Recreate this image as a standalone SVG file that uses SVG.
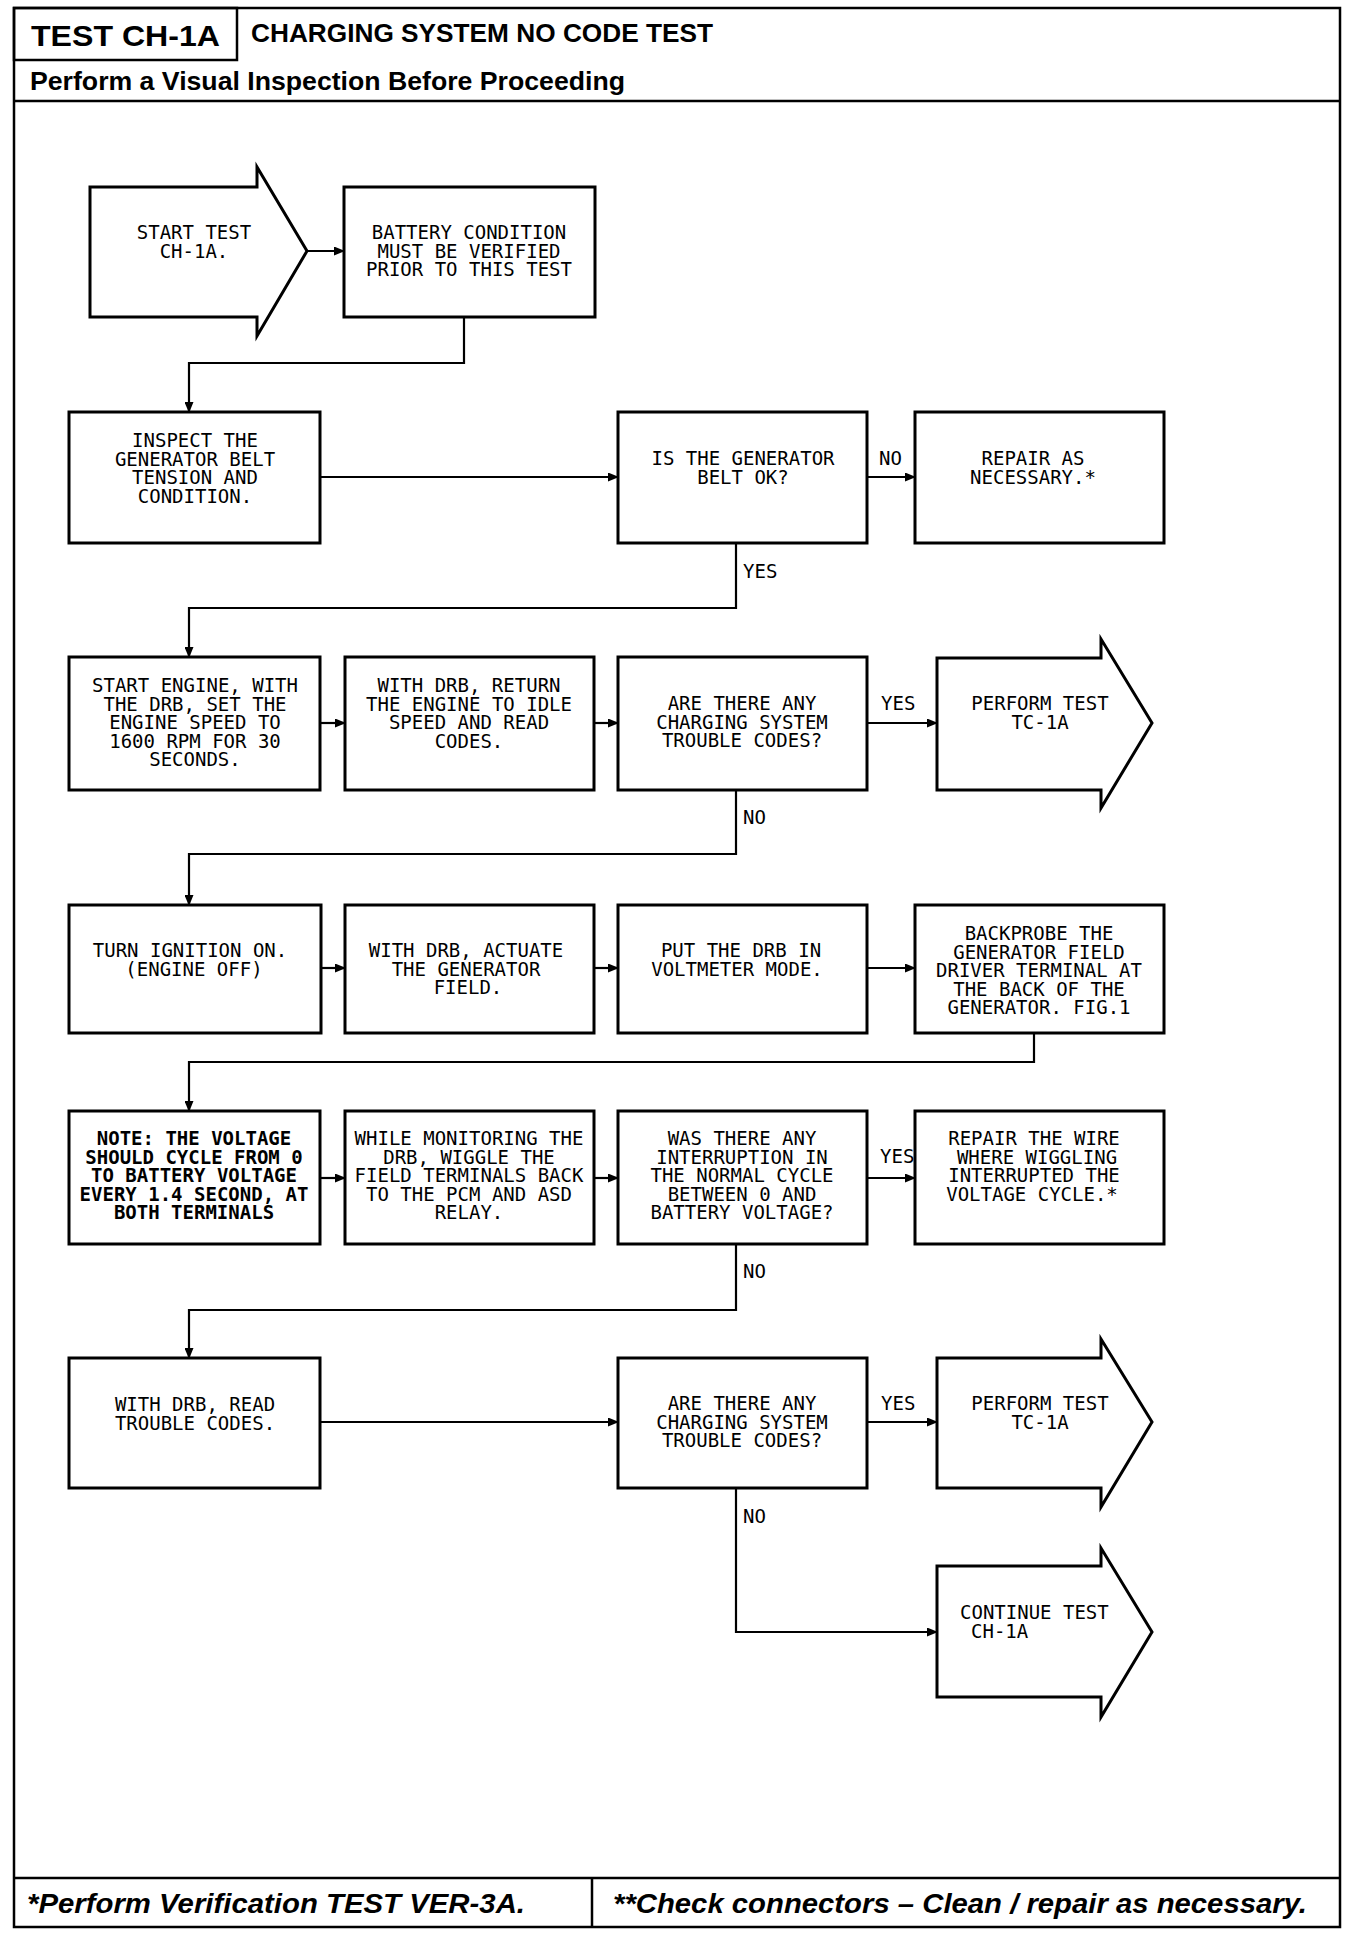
<svg xmlns="http://www.w3.org/2000/svg" width="1360" height="1938" viewBox="0 0 1360 1938">
<defs>
<style>
.frame{fill:none;stroke:#000;stroke-width:2.5}
.box{fill:#fff;stroke:#000;stroke-width:3}
.conn{fill:none;stroke:#000;stroke-width:2.2}
.t{font-family:"DejaVu Sans Mono","Liberation Mono",monospace;font-size:19px;fill:#000;text-anchor:middle}
.tb{font-weight:bold}
.lbl{font-family:"DejaVu Sans Mono","Liberation Mono",monospace;font-size:19px;fill:#000}
.hd{font-family:"Liberation Sans",Arial,sans-serif;font-weight:bold;fill:#000}
.ft{font-family:"Liberation Sans",Arial,sans-serif;font-weight:bold;font-style:italic;fill:#000}
</style>
<marker id="ah" markerUnits="userSpaceOnUse" markerWidth="11" markerHeight="9" refX="10" refY="4.5" orient="auto">
<path d="M0,0 L11,4.5 L0,9 z" fill="#000"/>
</marker>
</defs>
<rect width="1360" height="1938" fill="#fff"/>

<g id="frame">
<rect class="frame" x="14" y="8" width="1326" height="1919"/>
<rect class="frame" x="14" y="8" width="223" height="52"/>
<line class="frame" x1="14" y1="101" x2="1340" y2="101"/>
<line class="frame" x1="14" y1="1878" x2="1340" y2="1878"/>
<line class="frame" x1="592" y1="1878" x2="592" y2="1927"/>
<text class="hd" x="31" y="46" font-size="30" textLength="189" lengthAdjust="spacingAndGlyphs">TEST CH-1A</text>
<text class="hd" x="251" y="42" font-size="25" textLength="462" lengthAdjust="spacingAndGlyphs">CHARGING SYSTEM NO CODE TEST</text>
<text class="hd" x="30" y="90" font-size="25" textLength="595" lengthAdjust="spacingAndGlyphs">Perform a Visual Inspection Before Proceeding</text>
<text class="ft" x="27" y="1913" font-size="28" textLength="498" lengthAdjust="spacingAndGlyphs">*Perform Verification TEST VER-3A.</text>
<text class="ft" x="613" y="1913" font-size="28" textLength="694" lengthAdjust="spacingAndGlyphs">**Check connectors – Clean / repair as necessary.</text>
</g>

<g id="connectors">
<line class="conn" x1="307" y1="251" x2="344" y2="251" marker-end="url(#ah)"/>
<path class="conn" d="M464,317 V363 H189 V412" marker-end="url(#ah)"/>
<line class="conn" x1="320" y1="477" x2="618" y2="477" marker-end="url(#ah)"/>
<line class="conn" x1="867" y1="477" x2="915" y2="477" marker-end="url(#ah)"/>
<path class="conn" d="M736,543 V608 H189 V657" marker-end="url(#ah)"/>
<line class="conn" x1="320" y1="723" x2="345" y2="723" marker-end="url(#ah)"/>
<line class="conn" x1="594" y1="723" x2="618" y2="723" marker-end="url(#ah)"/>
<line class="conn" x1="867" y1="723" x2="937" y2="723" marker-end="url(#ah)"/>
<path class="conn" d="M736,790 V854 H189 V905" marker-end="url(#ah)"/>
<line class="conn" x1="320" y1="968" x2="345" y2="968" marker-end="url(#ah)"/>
<line class="conn" x1="594" y1="968" x2="618" y2="968" marker-end="url(#ah)"/>
<line class="conn" x1="867" y1="968" x2="915" y2="968" marker-end="url(#ah)"/>
<path class="conn" d="M1034,1033 V1062 H189 V1111" marker-end="url(#ah)"/>
<line class="conn" x1="320" y1="1178" x2="345" y2="1178" marker-end="url(#ah)"/>
<line class="conn" x1="594" y1="1178" x2="618" y2="1178" marker-end="url(#ah)"/>
<line class="conn" x1="867" y1="1178" x2="915" y2="1178" marker-end="url(#ah)"/>
<path class="conn" d="M736,1244 V1310 H189 V1358" marker-end="url(#ah)"/>
<line class="conn" x1="320" y1="1422" x2="618" y2="1422" marker-end="url(#ah)"/>
<line class="conn" x1="867" y1="1422" x2="937" y2="1422" marker-end="url(#ah)"/>
<path class="conn" d="M736,1488 V1632 H937" marker-end="url(#ah)"/>
<text class="lbl" x="879" y="465">NO</text>
<text class="lbl" x="743" y="578">YES</text>
<text class="lbl" x="881" y="710">YES</text>
<text class="lbl" x="743" y="824">NO</text>
<text class="lbl" x="880" y="1163">YES</text>
<text class="lbl" x="743" y="1278">NO</text>
<text class="lbl" x="881" y="1410">YES</text>
<text class="lbl" x="743" y="1523">NO</text>
</g>

<g id="start">
<polygon class="box" points="90,187 257,187 257,167 307,251 257,336 257,317 90,317"/>
<text class="t" x="194" y="239">START TEST<tspan x="194" dy="18.5">CH-1A.</tspan></text>
</g>
<g id="battery">
<rect class="box" x="344" y="187" width="251" height="130"/>
<text class="t" x="469" y="239">BATTERY CONDITION<tspan x="469" dy="18.5">MUST BE VERIFIED</tspan><tspan x="469" dy="18.5">PRIOR TO THIS TEST</tspan></text>
</g>
<g id="inspect">
<rect class="box" x="69" y="412" width="251" height="131"/>
<text class="t" x="195" y="447">INSPECT THE<tspan x="195" dy="18.5">GENERATOR BELT</tspan><tspan x="195" dy="18.5">TENSION AND</tspan><tspan x="195" dy="18.5">CONDITION.</tspan></text>
</g>
<g id="belt-ok">
<rect class="box" x="618" y="412" width="249" height="131"/>
<text class="t" x="743" y="465">IS THE GENERATOR<tspan x="743" dy="18.5">BELT OK?</tspan></text>
</g>
<g id="repair-belt">
<rect class="box" x="915" y="412" width="249" height="131"/>
<text class="t" x="1033" y="465">REPAIR AS<tspan x="1033" dy="18.5">NECESSARY.*</tspan></text>
</g>
<g id="start-engine">
<rect class="box" x="69" y="657" width="251" height="133"/>
<text class="t" x="195" y="692">START ENGINE, WITH<tspan x="195" dy="18.5">THE DRB, SET THE</tspan><tspan x="195" dy="18.5">ENGINE SPEED TO</tspan><tspan x="195" dy="18.5">1600 RPM FOR 30</tspan><tspan x="195" dy="18.5">SECONDS.</tspan></text>
</g>
<g id="idle">
<rect class="box" x="345" y="657" width="249" height="133"/>
<text class="t" x="469" y="692">WITH DRB, RETURN<tspan x="469" dy="18.5">THE ENGINE TO IDLE</tspan><tspan x="469" dy="18.5">SPEED AND READ</tspan><tspan x="469" dy="18.5">CODES.</tspan></text>
</g>
<g id="codes-1">
<rect class="box" x="618" y="657" width="249" height="133"/>
<text class="t" x="742" y="710">ARE THERE ANY<tspan x="742" dy="18.5">CHARGING SYSTEM</tspan><tspan x="742" dy="18.5">TROUBLE CODES?</tspan></text>
</g>
<g id="tc-1a-1">
<polygon class="box" points="937,658 1101,658 1101,639 1152,723 1101,808 1101,790 937,790"/>
<text class="t" x="1040" y="710">PERFORM TEST<tspan x="1040" dy="18.5">TC-1A</tspan></text>
</g>
<g id="ignition">
<rect class="box" x="69" y="905" width="252" height="128"/>
<text class="t" x="190" y="957">TURN IGNITION ON.<tspan x="194" dy="18.5">(ENGINE OFF)</tspan></text>
</g>
<g id="actuate">
<rect class="box" x="345" y="905" width="249" height="128"/>
<text class="t" x="466" y="957">WITH DRB, ACTUATE<tspan x="466" dy="18.5">THE GENERATOR</tspan><tspan x="468" dy="18.5">FIELD.</tspan></text>
</g>
<g id="voltmeter">
<rect class="box" x="618" y="905" width="249" height="128"/>
<text class="t" x="741" y="957">PUT THE DRB IN<tspan x="737" dy="18.5">VOLTMETER MODE.</tspan></text>
</g>
<g id="backprobe">
<rect class="box" x="915" y="905" width="249" height="128"/>
<text class="t" x="1039" y="940">BACKPROBE THE<tspan x="1039" dy="18.5">GENERATOR FIELD</tspan><tspan x="1039" dy="18.5">DRIVER TERMINAL AT</tspan><tspan x="1039" dy="18.5">THE BACK OF THE</tspan><tspan x="1039" dy="18.5">GENERATOR. FIG.1</tspan></text>
</g>
<g id="note">
<rect class="box" x="69" y="1111" width="251" height="133"/>
<text class="t tb" x="194" y="1145">NOTE: THE VOLTAGE<tspan x="194" dy="18.5">SHOULD CYCLE FROM 0</tspan><tspan x="194" dy="18.5">TO BATTERY VOLTAGE</tspan><tspan x="194" dy="18.5">EVERY 1.4 SECOND, AT</tspan><tspan x="194" dy="18.5">BOTH TERMINALS</tspan></text>
</g>
<g id="wiggle">
<rect class="box" x="345" y="1111" width="249" height="133"/>
<text class="t" x="469" y="1145">WHILE MONITORING THE<tspan x="469" dy="18.5">DRB, WIGGLE THE</tspan><tspan x="469" dy="18.5">FIELD TERMINALS BACK</tspan><tspan x="469" dy="18.5">TO THE PCM AND ASD</tspan><tspan x="469" dy="18.5">RELAY.</tspan></text>
</g>
<g id="interruption">
<rect class="box" x="618" y="1111" width="249" height="133"/>
<text class="t" x="742" y="1145">WAS THERE ANY<tspan x="742" dy="18.5">INTERRUPTION IN</tspan><tspan x="742" dy="18.5">THE NORMAL CYCLE</tspan><tspan x="742" dy="18.5">BETWEEN 0 AND</tspan><tspan x="742" dy="18.5">BATTERY VOLTAGE?</tspan></text>
</g>
<g id="repair-wire">
<rect class="box" x="915" y="1111" width="249" height="133"/>
<text class="t" x="1034" y="1145">REPAIR THE WIRE<tspan x="1037" dy="18.5">WHERE WIGGLING</tspan><tspan x="1034" dy="18.5">INTERRUPTED THE</tspan><tspan x="1032" dy="18.5">VOLTAGE CYCLE.*</tspan></text>
</g>
<g id="read-codes">
<rect class="box" x="69" y="1358" width="251" height="130"/>
<text class="t" x="195" y="1411">WITH DRB, READ<tspan x="195" dy="18.5">TROUBLE CODES.</tspan></text>
</g>
<g id="codes-2">
<rect class="box" x="618" y="1358" width="249" height="130"/>
<text class="t" x="742" y="1410">ARE THERE ANY<tspan x="742" dy="18.5">CHARGING SYSTEM</tspan><tspan x="742" dy="18.5">TROUBLE CODES?</tspan></text>
</g>
<g id="tc-1a-2">
<polygon class="box" points="937,1358 1101,1358 1101,1339 1152,1422 1101,1507 1101,1488 937,1488"/>
<text class="t" x="1040" y="1410">PERFORM TEST<tspan x="1040" dy="18.5">TC-1A</tspan></text>
</g>
<g id="continue">
<polygon class="box" points="937,1566 1101,1566 1101,1548 1152,1632 1101,1717 1101,1697 937,1697"/>
<text class="lbl" x="960" y="1619">CONTINUE TEST<tspan x="971" dy="18.5">CH-1A</tspan></text>
</g>
</svg>
